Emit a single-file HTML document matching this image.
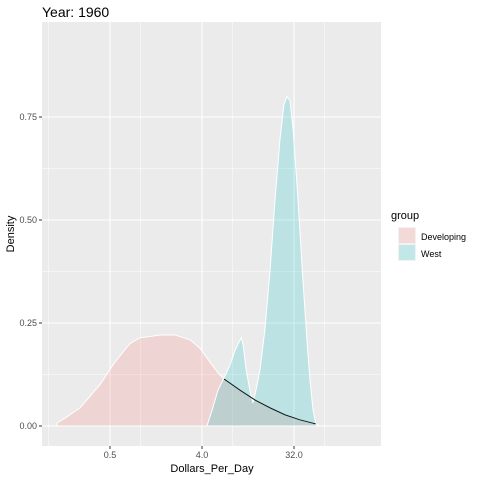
<!DOCTYPE html>
<html><head><meta charset="utf-8"><style>
body{margin:0;background:#fff;}
text{font-family:"Liberation Sans",sans-serif;}
</style></head><body>
<svg id="chart" width="480" height="480">
<rect x="0" y="0" width="480" height="480" fill="#fff"/>
<text x="42" y="17" font-size="14" fill="#000">Year: 1960</text>
<rect x="42" y="22" width="339" height="424" fill="#EBEBEB"/>
<g id="grid"></g>
<g id="series"></g>
<g id="axes"></g>
<text x="212" y="472" font-size="11" text-anchor="middle" fill="#000">Dollars_Per_Day</text>
<text transform="translate(14,234) rotate(-90)" font-size="11" text-anchor="middle" fill="#000">Density</text>
<g>
<text x="391" y="219" font-size="11" fill="#000">group</text>
<rect x="398" y="227" width="18" height="17" fill="#F2F2F2"/>
<rect x="399" y="228" width="16" height="15" fill="#F8766D" fill-opacity="0.2"/>
<text x="421" y="240" font-size="9" fill="#000">Developing</text>
<rect x="398" y="244" width="18" height="17" fill="#F2F2F2"/>
<rect x="399" y="245" width="16" height="15" fill="#00BFC4" fill-opacity="0.2"/>
<text x="421" y="257" font-size="9" fill="#000">West</text>
</g>
</svg>
<script>
// log2(Dollars_Per_Day) and density values
const devLog2 = [-2.73,-2.47,-1.98,-1.33,-0.84,-0.35,-0.02,0.63,1.12,1.61,1.93,2.26,2.52,2.72,3.24,3.73,4.22,4.71,5.19,5.71];
const devDensity = [0.007,0.019,0.044,0.10,0.155,0.20,0.214,0.221,0.221,0.209,0.189,0.155,0.129,0.114,0.087,0.063,0.044,0.027,0.015,0.005];
const westLog2 = [2.16,2.33,2.52,2.72,2.91,3.08,3.28,3.34,3.44,3.57,3.66,3.76,3.89,4.05,4.22,4.38,4.54,4.67,4.77,4.87,4.97,5.13,5.29,5.42,5.52,5.62,5.71,5.84];
const westDensity = [0,0.039,0.087,0.117,0.148,0.184,0.214,0.197,0.136,0.083,0.056,0.087,0.136,0.233,0.379,0.549,0.694,0.779,0.80,0.79,0.72,0.549,0.354,0.209,0.112,0.039,0.005,0];
const xTicks = [0.5,4,32];
const xTickLabels = ["0.5","4.0","32.0"];
const xMinor = [0.125,1,8,64];
const yTicks = [0,0.25,0.5,0.75];
const yTickLabels = ["0.00","0.25","0.50","0.75"];

const X = u => 140.67 + 30.67*u;
const XV = v => X(Math.log2(v));
const Y = d => 426 - 412*d;
const NS = "http://www.w3.org/2000/svg";
function mk(tag, attrs, parent){const e=document.createElementNS(NS,tag);for(const k in attrs)e.setAttribute(k,attrs[k]);parent.appendChild(e);return e;}
const grid=document.getElementById('grid'), series=document.getElementById('series'), axes=document.getElementById('axes');

yTicks.forEach((t,i)=>{
  if(i<yTicks.length-1){const l=mk('line',{x1:42,x2:381,y1:Y(t+0.125),y2:Y(t+0.125),stroke:'#fff','stroke-width':0.5},grid);
  
  }
  const g=mk('line',{x1:42,x2:381,y1:Y(t),y2:Y(t),stroke:'#fff','stroke-width':1.1},grid);
  
  
  const tk=mk('line',{x1:39,x2:42,y1:Y(t),y2:Y(t),stroke:'#333','stroke-width':1},axes);
  
  
  const tx=mk('text',{x:37,y:Y(t)+3,'font-size':9,'text-anchor':'end',fill:'#4d4d4d'},axes);
  tx.textContent=yTickLabels[i];
  
  
});
xMinor.forEach(v=>{
  const l=mk('line',{x1:XV(v),x2:XV(v),y1:22,y2:446,stroke:'#fff','stroke-width':0.5},grid);
  
  
});
xTicks.forEach((v,i)=>{
  const g=mk('line',{x1:XV(v),x2:XV(v),y1:22,y2:446,stroke:'#fff','stroke-width':1.1},grid);
  
  
  const tk=mk('line',{x1:XV(v),x2:XV(v),y1:446,y2:449,stroke:'#333','stroke-width':1},axes);
  
  
  const tx=mk('text',{x:XV(v),y:458,'font-size':9,'text-anchor':'middle',fill:'#4d4d4d'},axes);
  tx.textContent=xTickLabels[i];
  
  
});
function area(us,ds,color,name){
  let d=`M${X(us[0])},${Y(0)}`;
  us.forEach((u,i)=>{d+=` L${X(u)},${Y(ds[i])}`;});
  d+=` L${X(us[us.length-1])},${Y(0)} Z`;
  const p=mk('path',{d:d,fill:color,'fill-opacity':0.2,stroke:'#fff','stroke-width':1},series);
  
  
}
area(devLog2,devDensity,'#F8766D','area-developing');
area(westLog2,westDensity,'#00BFC4','area-west');
// dark tail line of developing curve where overlapped
let pts=[];
devLog2.forEach((u,i)=>{if(u>=2.72)pts.push(X(u)+','+Y(devDensity[i]));});
const tl=mk('polyline',{points:pts.join(' '),fill:'none',stroke:'#0a1a1a','stroke-width':1},series);


</script>
</body></html>
